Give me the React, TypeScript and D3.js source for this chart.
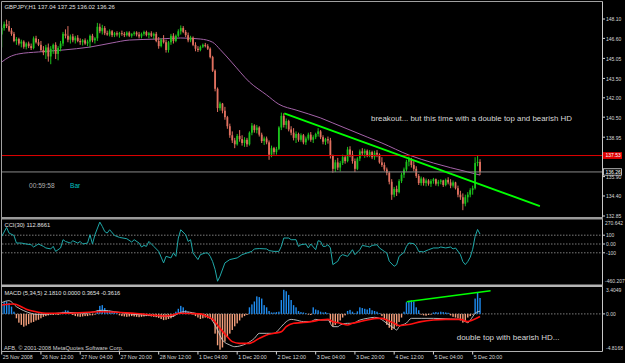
import React from 'react';
import * as d3 from 'd3';

const W = 625;
const H = 363;

const timeLabels = ['25 Nov 2008', '26 Nov 12:00', '27 Nov 04:00', '27 Nov 20:00', '28 Nov 12:00', '1 Dec 04:00', '1 Dec 20:00', '2 Dec 12:00', '3 Dec 04:00', '3 Dec 20:00', '4 Dec 12:00', '5 Dec 04:00', '5 Dec 20:00'];
const timeLabelIdx = [0, 16, 32, 48, 64, 80, 96, 112, 128, 144, 160, 176, 192];
const priceTicks = [148.10, 146.60, 145.05, 143.50, 142.00, 140.50, 138.95, 135.90, 134.40, 132.85];

const opens = [
146.90,147.40,147.70,147.55,147.20,146.95,146.40,146.55,146.20,146.35,
145.95,146.20,146.00,145.85,146.60,146.30,146.10,145.70,145.50,145.90,
145.20,145.80,146.10,145.40,145.85,146.20,146.95,146.80,146.50,146.75,
146.45,146.65,146.40,146.30,146.45,146.20,146.35,146.80,146.45,146.60,
147.50,147.15,147.40,147.00,146.90,147.15,146.85,147.00,146.90,147.00,
146.95,146.85,147.05,146.80,146.95,147.05,146.90,146.75,146.95,147.10,
146.85,147.00,146.80,146.95,146.40,146.00,146.50,146.30,145.70,146.30,
146.80,146.40,146.80,147.15,147.40,147.10,146.85,146.45,146.65,146.10,
145.80,145.70,145.95,146.10,146.00,145.80,145.15,144.10,142.70,141.20,
141.55,141.00,140.50,139.80,139.10,138.70,138.40,139.05,138.80,138.50,
138.75,138.40,139.30,139.85,139.50,139.70,139.15,138.65,138.85,138.55,
137.60,138.10,137.80,138.05,139.70,140.60,139.90,140.20,139.55,139.30,
138.90,139.20,138.75,139.10,138.55,138.85,139.15,138.75,138.95,139.20,
139.40,138.95,138.60,138.80,138.70,137.50,136.50,137.00,136.60,136.95,
137.40,137.10,138.00,137.60,137.10,136.50,137.30,137.85,137.70,137.90,
137.55,137.80,137.40,137.75,137.60,137.00,136.80,136.45,136.20,135.50,
134.50,134.95,134.70,135.55,136.05,136.45,137.05,137.25,136.80,136.50,
135.95,135.40,135.75,135.40,135.60,135.35,135.55,135.70,135.35,135.50,
135.60,135.25,135.65,135.45,135.20,135.45,135.00,134.50,134.30,133.80,
134.30,134.50,134.85,135.00,136.95,137.04];
const highs = [
147.60,147.90,148.05,147.95,147.40,147.10,146.70,146.65,146.50,146.45,
146.30,146.35,146.20,146.75,146.80,146.55,146.40,146.00,146.10,146.20,
146.00,146.20,146.30,146.00,146.40,147.10,147.30,147.55,146.90,146.95,
146.80,146.85,146.60,146.55,146.60,146.50,146.90,146.95,146.70,147.80,
147.75,147.65,147.55,147.20,147.30,147.25,147.10,147.15,147.10,147.20,
147.10,147.15,147.15,147.00,147.15,147.15,147.10,147.05,147.20,147.20,
147.10,147.15,147.05,147.10,146.70,146.60,146.85,146.50,146.40,146.95,
147.00,146.90,147.30,147.60,147.55,147.25,147.05,146.80,146.75,146.30,
146.00,146.05,146.20,146.25,146.15,145.90,145.25,144.20,142.80,141.70,
141.60,141.30,140.60,140.00,139.40,138.90,139.20,139.50,139.10,138.95,
138.90,139.40,140.05,139.95,139.90,139.80,139.30,139.00,139.00,138.70,
138.30,138.20,138.20,139.80,140.85,140.80,140.40,140.30,139.80,139.65,
139.40,139.30,139.25,139.20,139.00,139.30,139.35,139.10,139.30,139.65,
139.50,139.10,138.90,139.00,138.90,137.60,137.20,137.35,137.10,137.60,
137.55,138.20,138.25,137.90,137.30,137.40,138.00,138.10,138.05,138.00,
137.95,137.90,137.90,137.95,137.70,137.40,137.00,136.60,136.30,135.70,
135.10,135.20,135.70,136.20,136.60,137.20,137.45,137.35,137.10,136.70,
136.10,135.90,135.85,135.75,135.70,135.70,135.80,135.75,135.65,135.70,
135.65,135.75,135.85,135.70,135.60,135.50,135.20,134.80,134.60,134.50,
134.70,135.00,135.20,137.40,137.53,137.25];
const lows = [
145.90,147.20,147.40,147.10,146.80,146.30,146.10,146.05,145.90,145.80,
145.75,145.85,145.70,145.75,146.20,146.00,145.60,145.30,145.00,144.80,
144.60,145.40,145.00,144.90,145.60,146.00,146.60,146.30,146.20,146.30,
146.20,146.30,146.10,146.05,146.10,146.00,145.90,146.30,146.20,146.40,
147.00,146.90,146.85,146.80,146.75,146.70,146.70,146.75,146.65,146.80,
146.70,146.75,146.70,146.65,146.80,146.75,146.60,146.60,146.80,146.75,
146.60,146.70,146.55,146.30,145.80,145.90,146.20,145.50,145.50,146.10,
146.20,146.30,146.70,146.90,147.00,146.70,146.30,146.30,146.00,145.60,
145.55,145.60,145.85,145.90,145.70,145.05,144.00,142.50,140.90,141.00,
140.80,140.30,139.60,138.90,138.50,138.10,138.30,138.60,138.30,138.20,
138.20,138.30,139.10,139.30,139.25,139.00,138.50,138.35,138.40,137.20,
137.40,137.60,137.60,137.95,139.50,139.70,139.60,139.40,139.10,138.70,
138.50,138.60,138.60,138.40,138.35,138.70,138.60,138.50,138.80,139.00,
138.80,138.40,138.35,138.45,137.30,136.20,136.25,136.40,136.30,136.80,
136.90,137.00,137.40,136.90,136.25,136.40,137.10,137.50,137.35,137.40,
137.40,137.25,137.20,137.40,136.90,136.65,136.30,136.00,135.30,134.10,
134.30,134.40,134.60,135.40,135.80,136.30,136.70,136.60,136.30,135.80,
135.25,135.20,135.20,135.15,135.20,135.10,135.35,135.20,135.15,135.30,
135.10,135.15,135.30,135.00,135.05,134.90,134.30,134.10,133.30,133.60,
133.90,134.30,134.50,134.90,136.70,136.02];
const closes = [
147.40,147.70,147.55,147.20,146.95,146.40,146.55,146.20,146.35,145.95,
146.20,146.00,145.85,146.60,146.30,146.10,145.70,145.50,145.90,145.20,
145.80,146.10,145.40,145.85,146.20,146.95,146.80,146.50,146.75,146.45,
146.65,146.40,146.30,146.45,146.20,146.35,146.80,146.45,146.60,147.50,
147.15,147.40,147.00,146.90,147.15,146.85,147.00,146.90,147.00,146.95,
146.85,147.05,146.80,146.95,147.05,146.90,146.75,146.95,147.10,146.85,
147.00,146.80,146.95,146.40,146.00,146.50,146.30,145.70,146.30,146.80,
146.40,146.80,147.15,147.40,147.10,146.85,146.45,146.65,146.10,145.80,
145.70,145.95,146.10,146.00,145.80,145.15,144.10,142.70,141.20,141.55,
141.00,140.50,139.80,139.10,138.70,138.40,139.05,138.80,138.50,138.75,
138.40,139.30,139.85,139.50,139.70,139.15,138.65,138.85,138.55,137.60,
138.10,137.80,138.05,139.70,140.60,139.90,140.20,139.55,139.30,138.90,
139.20,138.75,139.10,138.55,138.85,139.15,138.75,138.95,139.20,139.40,
138.95,138.60,138.80,138.70,137.50,136.50,137.00,136.60,136.95,137.40,
137.10,138.00,137.60,137.10,136.50,137.30,137.85,137.70,137.90,137.55,
137.80,137.40,137.75,137.60,137.00,136.80,136.45,136.20,135.50,134.50,
134.95,134.70,135.55,136.05,136.45,137.05,137.25,136.80,136.50,135.95,
135.40,135.75,135.40,135.60,135.35,135.55,135.70,135.35,135.50,135.60,
135.25,135.65,135.45,135.20,135.45,135.00,134.50,134.30,133.80,134.30,
134.50,134.85,135.00,136.95,137.04,136.26];

const maIdx = [0, 3, 7, 15, 25, 36, 45, 52, 64, 73, 81, 86, 89, 94, 101, 108, 113, 120, 130, 135, 149, 155, 166, 176, 190, 195];
const maVals = [144.77, 145.15, 145.40, 145.55, 145.70, 145.93, 146.25, 146.47, 146.55, 146.63, 146.55, 146.30, 145.75, 144.70, 143.22, 142.22, 141.50, 141.05, 140.44, 140.05, 138.96, 138.50, 137.57, 136.95, 136.26, 136.02];

const cciIdx = [0,2,3,5,6,8,10,12,13,15,17,18,20,21,22,24,25,26,28,29,31,32,33,35,36,37,38,40,41,42,43,44,46,48,51,53,54,56,57,58,59,60,62,64,66,67,69,70,71,72,73,75,76,77,78,80,81,83,84,85,86,87,88,89,91,93,96,98,100,102,103,105,108,109,111,113,114,115,117,118,120,121,122,124,125,126,128,129,130,131,132,133,134,135,137,138,139,141,143,144,146,147,149,150,151,153,154,156,157,158,160,161,162,164,165,166,168,169,170,172,174,176,178,179,181,183,184,185,187,188,189,190,191,192,193,194,195];
const cciVals = [86,188,124,97,11,11,0,-8,-34,0,-27,-45,-56,-27,-84,-45,49,29,11,37,11,29,0,11,105,0,105,249,200,142,124,162,97,75,60,22,49,11,-34,-16,-27,29,-27,-84,-215,-140,-158,-102,-140,68,162,105,29,49,-102,-177,-121,-102,-102,-140,-200,-290,-423,-366,-215,-177,-158,-121,-102,-84,-56,-52,-56,-75,-84,-84,-27,68,68,49,49,-27,-8,0,-45,0,-65,37,29,-27,-27,-8,-45,-234,-196,-140,-121,-140,-65,-121,-65,-16,-27,-34,-16,-8,-45,-84,-102,-196,-253,-234,-140,-96,-27,11,4,-27,-84,-90,-65,-45,-45,-34,-45,-34,-56,-45,-120,-200,-234,-200,-150,-60,86,165,113];

const macdHist = [
1.2,1.6,1.7,1.5,1.0,0.3,-0.6,-1.2,-1.5,-1.75,
-1.6,-1.4,-1.2,-1.1,-0.9,-0.8,-0.6,-0.4,-0.3,-0.2,
-0.1,-0.15,-0.1,-0.15,-0.05,0.3,0.5,0.45,0.2,-0.15,
-0.3,-0.35,-0.4,-0.35,-0.3,-0.3,-0.2,-0.2,-0.1,0.5,
1.1,1.2,0.8,0.5,0.45,0.4,0.3,0.1,-0.2,-0.3,
-0.35,-0.4,-0.35,-0.3,-0.35,-0.4,-0.45,-0.4,-0.35,-0.3,
-0.3,-0.35,-0.4,-0.45,-0.55,-0.7,-0.85,-0.8,-0.7,-0.6,
-0.4,0.3,0.7,1.1,0.9,0.5,0.3,0.2,-0.1,-0.3,
-0.5,-0.7,-0.6,-0.5,-0.6,-0.7,-1.0,-2.7,-4.3,-4.9,
-4.6,-3.8,-3.2,-2.7,-2.2,-1.7,-1.3,-0.9,-0.5,-0.3,
-0.15,0.9,1.3,1.7,2.4,2.3,2.1,1.2,0.9,0.4,
0.2,0.2,0.25,0.3,1.9,3.3,3.1,2.6,1.9,1.2,
0.9,0.4,0.25,0.2,0.1,-0.1,-0.15,0.9,0.6,0.5,
0.3,0.2,0.25,0.1,-1.2,-1.7,-1.5,-1.2,-0.9,-0.5,
-0.2,0.4,0.55,0.3,0.1,0.35,0.9,0.8,0.7,0.6,
0.8,0.5,0.4,0.3,0.1,-0.3,-0.8,-1.5,-1.9,-2.2,
-2.0,-1.7,-1.1,-0.5,0.3,1.6,1.8,1.85,1.7,0.9,
0.5,-0.1,-0.2,-0.25,-0.15,-0.1,0.2,0.25,0.2,0.3,
0.25,0.2,0.15,-0.2,-0.4,-0.5,-0.6,-0.9,-1.2,-1.1,
-0.5,-0.3,-0.1,2.1,2.95,2.18];

const sigIdx = [0,5,8,10,14,18,27,40,54,67,73,81,84,86,89,92,94,97,101,105,108,111,114,116,119,122,126,130,133,135,138,141,143,146,149,153,155,157,160,162,166,171,176,181,187,190,192,195];
const sigVals = [1.22,1.36,0.99,0.63,0.30,0.08,0.08,0.30,0.08,-0.29,0.08,0.0,-0.4,-0.75,-1.98,-3.12,-3.80,-4.03,-4.03,-3.35,-2.89,-2.66,-2.44,-1.75,-1.29,-1.20,-1.06,-0.84,-0.75,-1.06,-1.29,-1.52,-1.29,-1.06,-0.84,-0.61,-0.61,-0.84,-1.29,-1.6,-1.45,-1.06,-0.84,-0.75,-0.75,-1.06,-0.84,-0.36];

const mainIdx = [0,3,6,9,12,14,20,27,34,41,46,54,65,69,74,79,85,88,90,93,95,97,100,103,105,108,111,114,116,118,120,123,126,128,130,133,135,137,138,141,143,146,149,152,154,157,160,161,162,165,167,171,176,183,187,189,190,192,193,195];
const mainVals = [1.54,1.81,0.99,0.44,0.08,-0.06,0.0,0.21,0.08,0.5,0.30,-0.06,-0.29,-0.38,0.30,0.08,-0.6,-2.21,-3.58,-4.26,-4.49,-4.40,-4.03,-3.35,-2.66,-2.66,-2.66,-1.75,-1.06,-0.75,-0.84,-1.06,-1.06,-0.75,-0.84,-0.84,-1.75,-1.75,-1.52,-1.29,-1.29,-0.84,-0.61,-0.47,-0.61,-1.29,-1.98,-2.21,-1.75,-1.25,-0.61,-0.61,-0.61,-0.70,-0.75,-1.06,-1.20,-0.38,0.08,0.37];

// trendlines in data space: [barIndex, value]
const priceTrend = [[115.2, 140.80], [219.4, 133.62]];
const macdTrend = [[165.1, 1.67], [199.3, 3.18]];

const BULL = '#1cc21c';
const BEAR = '#e0705f';
const FONT = '"Liberation Sans", Arial, sans-serif';
const AXC = '#d8d8d8';

export default function App() {
  const x = d3.scaleLinear().domain([0, 195]).range([1.7, 480.03]);
  const yP = d3.scaleLinear().domain([132.85, 148.10]).range([216, 19]);
  const yC = d3.scaleLinear().domain([-100, 100]).range([252.8, 235.2]);
  const yM = d3.scaleLinear().domain([-4.8168, 3.4049]).range([349.07, 289.04]);

  const maPath = d3.line<number>().x((d, k) => x(maIdx[k])).y(d => yP(d)).curve(d3.curveMonotoneX)(maVals) || '';
  const cciPath = d3.line<number>().x((d, k) => x(cciIdx[k])).y(d => yC(d))(cciVals) || '';
  const sigPath = d3.line<number>().x((d, k) => x(sigIdx[k])).y(d => yM(d)).curve(d3.curveMonotoneX)(sigVals) || '';
  const mainPath = d3.line<number>().x((d, k) => x(mainIdx[k])).y(d => yM(d)).curve(d3.curveMonotoneX)(mainVals) || '';

  const R = 602.5;

  return (
    <svg width={W} height={H} style={{ position: 'fixed', left: 0, top: 0, background: '#000' }} fontFamily={FONT}>
      <defs>
        <clipPath id="cMain"><rect x={2} y={2} width={600} height={215} /></clipPath>
        <clipPath id="cCci"><rect x={2} y={219.5} width={600} height={65} /></clipPath>
        <clipPath id="cMacd"><rect x={2} y={287} width={600} height={64} /></clipPath>
      </defs>
      <rect x={0} y={0} width={W} height={H} fill="#000" />

      {/* main panel */}
      <g clipPath="url(#cMain)">
        <path d={maPath} fill="none" stroke="#a463a8" strokeWidth={1} />
        {closes.map((c, i) => {
          const o = opens[i];
          const col = c >= o ? BULL : BEAR;
          const cx = x(i);
          const yt = yP(Math.max(o, c));
          const yb = yP(Math.min(o, c));
          return (
            <g key={i}>
              <line x1={cx} x2={cx} y1={yP(highs[i])} y2={yP(lows[i])} stroke={col} strokeWidth={1} />
              <rect x={cx - 0.9} y={yt} width={1.8} height={Math.max(0.8, yb - yt)} fill={col} />
            </g>
          );
        })}
        <line x1={2} x2={R} y1={yP(137.53)} y2={yP(137.53)} stroke="#e00000" strokeWidth={1} />
        <line x1={2} x2={R} y1={yP(136.26)} y2={yP(136.26)} stroke="#8a8a8a" strokeWidth={1} />
        <line x1={x(priceTrend[0][0])} y1={yP(priceTrend[0][1])} x2={x(priceTrend[1][0])} y2={yP(priceTrend[1][1])} stroke="#00ff00" strokeWidth={1.8} />
        <text x={371} y={118} dy="0.35em" fontSize={7.9} fill="#d8d8d8">breakout... but this time with a double top and bearish HD</text>
        <text x={29} y={186} dy="0.35em" fontSize={6.6} fill="#b0b0b0">00:59:58</text>
        <text x={70} y={186} dy="0.35em" fontSize={6.6} fill="#00c0c0">Bar</text>
        <text x={4.5} y={6.5} dy="0.35em" fontSize={5.9} fill="#e0e0e0">GBPJPY,H1  137.04 137.25 136.02 136.26</text>
      </g>

      {/* price axis labels */}
      {priceTicks.map((p, k) => (
        <g key={k}>
          <line x1={R} x2={R + 2.5} y1={yP(p)} y2={yP(p)} stroke={AXC} />
          <text x={606} y={yP(p) + 0.6} dy="0.35em" fontSize={5} fill={AXC}>{p.toFixed(2)}</text>
        </g>
      ))}
      <rect x={603} y={yP(137.53) - 3.4} width={19} height={6.8} fill="#e00000" />
      <text x={605.5} y={yP(137.53)} dy="0.35em" fontSize={5} fill="#ffffff">137.53</text>
      <rect x={603.5} y={yP(136.26) - 3.2} width={18} height={6.4} fill="#000" stroke="#e0e0e0" strokeWidth={0.8} />
      <text x={605.5} y={yP(136.26)} dy="0.35em" fontSize={5} fill="#ffffff">136.26</text>

      {/* CCI panel */}
      {[100, 0, -100].map(v => (
        <line key={v} x1={2} x2={R} y1={yC(v)} y2={yC(v)} stroke="#9a9a9a" strokeWidth={0.8} strokeDasharray="1.5,1.5" />
      ))}
      <g clipPath="url(#cCci)">
        <path d={cciPath} fill="none" stroke="#20a8a8" strokeWidth={1} />
      </g>
      <text x={4.5} y={225} dy="0.35em" fontSize={5.8} fill="#e0e0e0">CCI(30) 112.8661</text>
      <text x={605} y={223.3} dy="0.35em" fontSize={5} fill={AXC}>270.642</text>
      {[100, 0, -100].map(v => (
        <g key={'l' + v}>
          <line x1={R} x2={R + 2.5} y1={yC(v)} y2={yC(v)} stroke={AXC} />
          <text x={606} y={yC(v)} dy="0.35em" fontSize={5} fill={AXC}>{v === 0 ? '0.00' : String(v)}</text>
        </g>
      ))}
      <text x={605} y={281.5} dy="0.35em" fontSize={5} fill={AXC}>-460.207</text>

      {/* MACD panel */}
      <line x1={2} x2={R} y1={yM(0)} y2={yM(0)} stroke="#9a9a9a" strokeWidth={0.8} strokeDasharray="1.5,1.5" />
      <g clipPath="url(#cMacd)">
        {macdHist.map((v, i) => (
          <rect key={i} x={x(i) - 0.7} y={Math.min(yM(v), yM(0))} width={1.4} height={Math.abs(yM(v) - yM(0))} fill={v >= 0 ? '#1e8cf0' : '#f5a07c'} />
        ))}
        <path d={mainPath} fill="none" stroke="#c8c8c8" strokeWidth={0.9} />
        <path d={sigPath} fill="none" stroke="#ff1010" strokeWidth={1.6} />
        <line x1={x(macdTrend[0][0])} y1={yM(macdTrend[0][1])} x2={x(macdTrend[1][0])} y2={yM(macdTrend[1][1])} stroke="#00ff00" strokeWidth={1.4} />
      </g>
      <text x={4.5} y={293} dy="0.35em" fontSize={5.7} fill="#e0e0e0">MACD  (5,34,5) 2.1810 0.0000 0.3654 -0.3616</text>
      <text x={4} y={347.7} dy="0.35em" fontSize={5.7} fill="#d0d0d0">AFB, © 2001-2008 MetaQuotes Software Corp.</text>
      <text x={456.7} y={336.7} dy="0.35em" fontSize={8} fill="#d8d8d8">double top with bearish HD...</text>
      <line x1={R} x2={R + 2.5} y1={yM(0)} y2={yM(0)} stroke={AXC} />
      <text x={606} y={290.7} dy="0.35em" fontSize={5} fill={AXC}>3.4049</text>
      <text x={606} y={yM(0)} dy="0.35em" fontSize={5} fill={AXC}>0.00</text>
      <text x={606} y={348.3} dy="0.35em" fontSize={5} fill={AXC}>-4.8168</text>

      {/* frames */}
      <line x1={1.5} x2={R} y1={1.5} y2={1.5} stroke="#a0a0a0" />
      <line x1={1.5} x2={1.5} y1={1.5} y2={351.5} stroke="#a0a0a0" />
      <line x1={R} x2={R} y1={1.5} y2={351.5} stroke="#c8c8c8" />
      <rect x={1} y={217} width={602} height={2.5} fill="#9a9a9a" />
      <rect x={1} y={284.5} width={602} height={2.5} fill="#b4b4b4" />
      <line x1={1.5} x2={R} y1={351.5} y2={351.5} stroke="#b0b0b0" />

      {/* time axis */}
      {timeLabelIdx.map((idx, k) => (
        <g key={k}>
          <line x1={x(idx)} x2={x(idx)} y1={351.5} y2={354.5} stroke={AXC} />
          <text x={x(idx) + 1} y={357.5} dy="0.35em" fontSize={5.3} fill={AXC}>{timeLabels[k]}</text>
        </g>
      ))}
    </svg>
  );
}
